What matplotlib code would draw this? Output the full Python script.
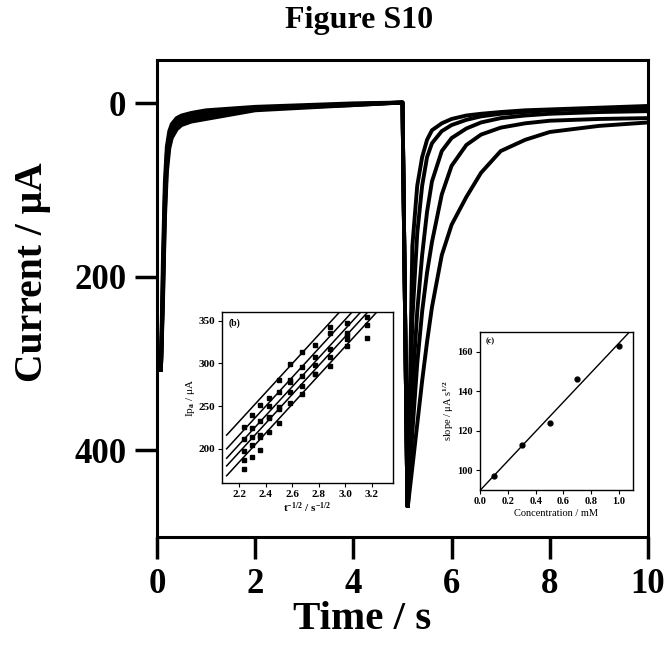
import matplotlib
matplotlib.use('Agg')
import matplotlib.pyplot as plt
import numpy as np

plt.rcParams['font.family'] = ['Liberation Serif', 'DejaVu Serif']
plt.rcParams['font.weight'] = 'bold'
plt.rcParams['mathtext.fontset'] = 'custom'
plt.rcParams['mathtext.rm'] = 'Liberation Serif:bold'
plt.rcParams['mathtext.it'] = 'Liberation Serif:bold'
plt.rcParams['mathtext.bf'] = 'Liberation Serif:bold'

# main chronoamperograms: forward step (traces overlap) and reverse step
t_fwd = [0.08, 0.12, 0.16, 0.20, 0.25, 0.30, 0.40, 0.50, 0.70, 1.0, 1.5, 2.0, 3.0, 4.0, 5.0]
i_fwd = [
    [307, 180, 90, 50, 32, 24, 17, 14, 11, 8, 6, 4, 2, 0, -1],
    [307, 200, 105, 58, 37, 28, 20, 16, 13, 10, 7, 5, 3, 1, -1],
    [307, 215, 115, 65, 42, 32, 24, 19, 15, 12, 9, 6, 3, 1, -1],
    [307, 225, 125, 72, 47, 36, 27, 22, 18, 15, 11, 7, 4, 2, -1],
    [307, 235, 135, 80, 52, 40, 30, 25, 21, 18, 13, 8, 5, 2, -1],
]
t_rev = [5.11, 5.2, 5.3, 5.4, 5.5, 5.6, 5.8, 6.0, 6.3, 6.6, 7.0, 7.5, 8.0, 9.0, 10.0]
i_rev = [
    [464, 165, 95, 62, 42, 31, 23, 18, 14, 12, 10, 8, 7, 5, 3],
    [464, 250, 150, 95, 62, 46, 32, 25, 19, 15, 12, 10, 8, 6, 6],
    [464, 330, 240, 175, 125, 90, 55, 40, 29, 22, 17, 14, 12, 10, 9],
    [464, 380, 300, 240, 195, 160, 105, 72, 48, 36, 28, 23, 20, 18, 17],
    [464, 420, 370, 320, 275, 235, 175, 140, 108, 80, 55, 42, 33, 26, 22],
]

# inset (b): Ip vs t^-1/2
b_x = [2.236, 2.294, 2.357, 2.425, 2.5, 2.582, 2.673, 2.774, 2.887, 3.015, 3.162]
b_y = [
    [226, 240, 251, 259, 281, 299, 313, 321, 343, 347, 354],
    [212, 224, 232, 250, 267, 281, 296, 307, 335, 335, 345],
    [198, 214, 216, 237, 249, 278, 285, 298, 317, 332, 330],
    [187, 204, 214, 236, 246, 266, 274, 288, 307, 328, np.nan],
    [176, 190, 199, 220, 230, 254, 264, 287, 297, 320, np.nan],
]
b_fit_x0 = 2.105
b_fit_y0 = [216, 200, 189, 180, 168.5]
b_fit_slope = 169

# inset (c): slope vs concentration
c_conc = [0.1, 0.3, 0.5, 0.7, 1.0]
c_slope = [97, 113, 124, 146, 163]

fig = plt.figure(figsize=(6.68, 6.5), dpi=100)

ax = fig.add_axes([157/668, 1-537/650, 491/668, 477/650])
for yy in i_fwd:
    ax.plot(t_fwd + [5.1] + t_rev[:1], yy + [464, 464], color='black', lw=2.8, solid_joinstyle='round')
for yy in i_rev:
    ax.plot(t_rev, yy, color='black', lw=2.8, solid_joinstyle='round')
ax.set_xlim(0, 10)
ax.set_ylim(500, -50)
ax.set_xticks([0, 2, 4, 6, 8, 10])
ax.set_yticks([0, 200, 400])
ax.tick_params(direction='out', length=16, width=2.5, labelsize=25, pad=6)
for s in ax.spines.values():
    s.set_linewidth(2.2)
ax.set_xlabel('Time / s', fontsize=29.5, fontweight='bold')
ax.xaxis.set_label_coords(0.417, -0.135)
ax.set_ylabel('Current / μA', fontsize=28.5, fontweight='bold')
ax.yaxis.set_label_coords(-0.215, 0.555)
fig.text(0.537, 0.968, 'Figure S10', fontsize=23, fontweight='bold', ha='center', va='center')

# inset b
axb = fig.add_axes([222/668, 1-483/650, 171/668, 171/650])
xx = np.array([b_fit_x0, 3.36])
for y0 in b_fit_y0:
    axb.plot(xx, y0 + b_fit_slope*(xx - b_fit_x0), color='black', lw=1.1)
for yy in b_y:
    axb.plot(b_x, yy, 's', color='black', ms=3.5)
axb.set_xlim(2.07, 3.36)
axb.set_ylim(160, 360)
axb.set_xticks([2.2, 2.4, 2.6, 2.8, 3.0, 3.2])
axb.set_yticks([200, 250, 300, 350])
axb.tick_params(direction='out', length=3, width=0.8, labelsize=8, pad=2)
for s in axb.spines.values():
    s.set_linewidth(1.0)
axb.set_xlabel(r'$\mathrm{t^{-1/2}\ /\ s^{-1/2}}$', fontsize=8, labelpad=1)
axb.set_ylabel(r'Ip$_\mathrm{a}$ / μA', fontsize=8, labelpad=1)
axb.text(0.04, 0.96, '(b)', transform=axb.transAxes, fontsize=7, va='top', ha='left')

# inset c
axc = fig.add_axes([480/668, 1-490/650, 153/668, 158/650])
k, b0 = np.polyfit(c_conc, c_slope, 1)
cx = np.array([0, 1.1])
axc.plot(cx, b0 + k*cx, color='black', lw=1.0)
axc.plot(c_conc, c_slope, 'o', color='black', ms=3.5)
axc.set_xlim(0, 1.1)
axc.set_ylim(90, 170)
axc.set_xticks([0.0, 0.2, 0.4, 0.6, 0.8, 1.0])
axc.set_yticks([100, 120, 140, 160])
axc.tick_params(direction='out', length=3, width=0.8, labelsize=7.5, pad=2)
for s in axc.spines.values():
    s.set_linewidth(1.0)
axc.set_xlabel('Concentration / mM', fontsize=7.5, labelpad=2)
axc.set_ylabel(r'slope / μA s$^{1/2}$', fontsize=7.5, labelpad=1)
axc.text(0.04, 0.97, '(c)', transform=axc.transAxes, fontsize=6, va='top', ha='left')

fig.savefig('out.png', dpi=100)
